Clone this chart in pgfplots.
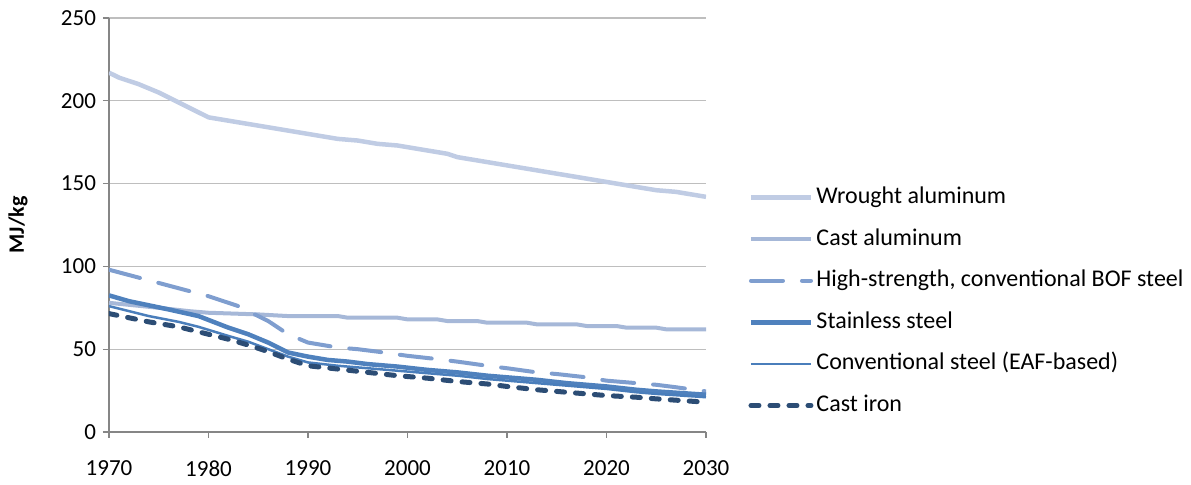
\documentclass[border=0pt]{standalone}
\usepackage{pgfplots}
\pgfplotsset{compat=1.18}
\usepackage{fontspec}
\setmainfont{Carlito}
\definecolor{cWA}{RGB}{192,204,228}
\definecolor{cCA}{RGB}{166,184,216}
\definecolor{cBOF}{RGB}{127,158,207}
\definecolor{cSS}{RGB}{79,129,189}
\definecolor{cEAF}{RGB}{74,126,187}
\definecolor{cCI}{RGB}{44,77,117}
\definecolor{cGrid}{RGB}{190,190,190}
\definecolor{cAxis}{RGB}{134,134,134}
\begin{document}
\begin{tikzpicture}
\path[use as bounding box] (-54.5pt,-26.5pt) rectangle (541pt,216pt);
\begin{axis}[
  at={(0pt,0pt)}, anchor=south west,
  scale only axis, width=298.5pt, height=207pt,
  xmin=1970, xmax=2030, ymin=0, ymax=250,
  xtick={1970,1980,...,2030}, ytick={0,50,...,250},
  xticklabel style={/pgf/number format/1000 sep={}, yshift=-8pt},
  /pgf/number format/assume math mode=true,
  tick label style={font=\fontsize{11.5}{13}\selectfont, text=black},
  axis x line*=bottom, axis y line*=left,
  axis line style={cAxis, line width=0.6pt},
  tick align=outside, major tick length=3pt,
  tick style={cAxis, line width=0.6pt},
  ymajorgrids, grid style={cGrid, line width=0.6pt},
  every axis y label/.style={at={(rel axis cs:0,0.5)}, xshift=-45.5pt, rotate=90, anchor=center},
  ylabel={\bfseries MJ/kg},
  ylabel style={font=\fontsize{11}{13}\selectfont},
  legend style={at={(rel axis cs:1.0705,0.594)}, anchor=north west, draw=none, fill=none,
    inner sep=0pt, row sep=9.8pt,
    nodes={inner sep=0pt, text height=8.5pt, text depth=2.5pt},
    font=\fontsize{12}{13}\selectfont},
  legend cell align=left,
  legend image code/.code={\draw[#1] (0pt,0pt) -- (30pt,0pt);},
  /tikz/every odd column/.append style={column sep=1.5pt},
  line join=round,
]
\addplot[cWA, line width=2.25pt] coordinates {
(1970,217)(1971,214)(1972,212)(1973,210)(1975,205)(1976,202)(1978,196)(1980,190)
(1982,188)(1984,186)(1985,185)(1986,184)(1987,183)(1988,182)(1990,180)(1992,178)
(1993,177)(1995,176)(1997,174)(1999,173)(2000,172)(2002,170)(2004,168)(2005,166)
(2008,163)(2010,161)(2015,156)(2020,151)(2022,149)(2025,146)(2027,145)(2030,142)};
\addlegendentry{Wrought aluminum}
\addplot[cCA, line width=2pt] coordinates {
(1970,78)(1975,75)(1978,73)(1980,72)(1985,71)(1988,70)(1993,70)(1994,69)(1999,69)
(2000,68)(2003,68)(2004,67)(2007,67)(2008,66)(2012,66)(2013,65)(2017,65)(2018,64)
(2021,64)(2022,63)(2025,63)(2026,62)(2030,62)};
\addlegendentry{Cast aluminum}
\addplot[cBOF, line width=2pt, line cap=round, dash pattern=on 16pt off 9.5pt] coordinates {
(1970,98)(1975,90)(1980,82)(1983,76)(1986,67)(1988,59)(1990,54)(1993,51)(1995,50)
(1997,48.5)(2000,46)(2003,44)(2005,42.5)(2008,40)(2010,38.5)(2013,36)(2015,35)
(2018,33)(2020,31)(2023,29.5)(2025,28.5)(2027,27)(2030,24.5)};
\addlegendentry{High-strength, conventional BOF steel}
\addplot[cSS, line width=2.25pt] coordinates {
(1970,82.5)(1972,79)(1974,76.5)(1976,74)(1979,70)(1982,63)(1984,59)(1986,54)(1988,48)
(1990,45.5)(1992,43.5)(1994,42.5)(1996,41)(1999,39.5)(2002,37.5)(2005,36)(2008,34)
(2010,33)(2013,31.5)(2016,29.5)(2020,27.5)(2023,25.5)(2025,24.5)(2030,22.5)};
\addlegendentry{Stainless steel}
\addplot[cEAF, line width=1.25pt] coordinates {
(1970,76)(1972,73)(1974,70)(1977,66.5)(1979,63.5)(1982,58)(1984,54.5)(1986,50)
(1988,45.5)(1990,42)(1993,40)(1996,38.5)(1999,37)(2002,35.5)(2005,34)(2008,32)
(2010,31)(2013,29.5)(2016,28)(2020,26)(2023,24)(2025,23)(2030,21)};
\addlegendentry{Conventional steel (EAF-based)}
\addplot[cCI, line width=2.5pt, line cap=round, dash pattern=on 4pt off 5.5pt] coordinates {
(1970,71.5)(1972,69)(1974,66.5)(1977,63.5)(1979,60.5)(1982,56)(1984,52.5)(1986,48.5)
(1988,44)(1990,40)(1993,38)(1996,36)(1999,34)(2002,32.5)(2005,30.5)(2008,29)
(2010,27.5)(2013,25.5)(2016,24)(2020,22)(2023,21)(2025,20)(2030,18)};
\addlegendentry{Cast iron}
\end{axis}
\end{tikzpicture}
\end{document}
